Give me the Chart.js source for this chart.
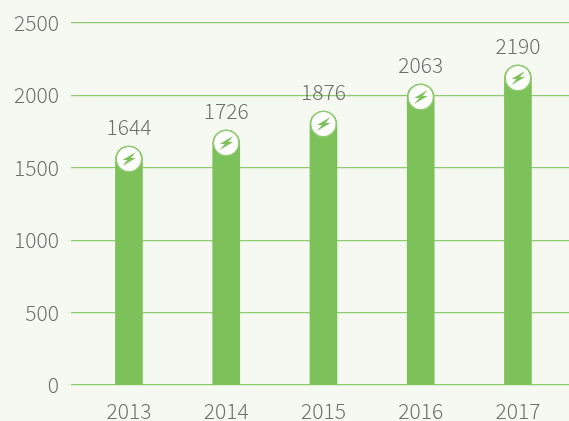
<!DOCTYPE html>
<html>
<head>
<meta charset="utf-8">
<style>
  html, body { margin: 0; padding: 0; background: #f6f9f2; overflow: hidden; }
  canvas { display: block; }
</style>
<script src="https://cdn.jsdelivr.net/npm/chart.js@4/dist/chart.umd.min.js"></script>
</head>
<body>
<canvas id="year_chart" width="569" height="421"></canvas>
<script>
const years = [2013, 2014, 2015, 2016, 2017];
// numbers printed above the bars
const printedValues = [1644, 1726, 1876, 2063, 2190];
// bar heights as drawn in the picture, they sit a little off the printed numbers
const barHeights = [1650, 1761, 1892, 2079, 2210];
const yTicks = [0, 500, 1000, 1500, 2000, 2500];

const GREEN = '#7dc15b';
const LINE_GREEN = '#8ecb70';
const TEXT_GREY = '#6e706d';
const FONT = '"Noto Sans CJK SC", "Noto Sans", sans-serif';

// white badge with a bolt on each bar, and the number above it
const badgePlugin = {
    id: 'badge',
    afterDatasetsDraw(chart) {
        const ctx = chart.ctx;
        chart.getDatasetMeta(0).data.forEach(function(bar, i){
            const cx = bar.x;
            const cy = bar.y + 13;
            ctx.save();
            ctx.beginPath();
            ctx.arc(cx, cy, 12.7, 0, Math.PI * 2);
            ctx.fillStyle = '#ffffff';
            ctx.fill();
            ctx.lineWidth = 1.4;
            ctx.strokeStyle = LINE_GREEN;
            ctx.stroke();

            ctx.beginPath();
            ctx.moveTo(cx + 7, cy - 7);
            ctx.lineTo(cx - 6.5, cy + 1);
            ctx.lineTo(cx - 1.5, cy + 1);
            ctx.lineTo(cx - 6.5, cy + 7);
            ctx.lineTo(cx + 7, cy - 1);
            ctx.lineTo(cx + 2, cy - 1);
            ctx.closePath();
            ctx.fillStyle = GREEN;
            ctx.fill();

            ctx.font = '300 21px ' + FONT;
            ctx.fillStyle = TEXT_GREY;
            ctx.textAlign = 'center';
            ctx.textBaseline = 'middle';
            ctx.fillText(String(printedValues[i]), cx, cy - 32);
            ctx.restore();
        });
    }
};

const ctx = document.getElementById('year_chart').getContext('2d');
const chart = new Chart(ctx, {
    type: 'bar',
    data: {
        datasets: [{
            data: years.map(function(y, i){ return { x: y, y: barHeights[i] }; }),
            backgroundColor: GREEN,
            barThickness: 27,
            borderRadius: { topLeft: 13.5, topRight: 13.5, bottomLeft: 0, bottomRight: 0 },
            borderSkipped: false
        }]
    },
    options: {
        responsive: false,
        animation: false,
        layout: { padding: { top: 23, right: 0, bottom: 0, left: 0 } },
        plugins: { legend: { display: false }, tooltip: { enabled: false } },
        scales: {
            x: {
                type: 'linear',
                offset: false,
                min: 2012.404,
                max: 2017.525,
                afterFit: function(scale){
                    scale.height = 36;
                    scale.paddingLeft = 0;
                    scale.paddingRight = 0;
                },
                afterBuildTicks: function(scale){
                    scale.ticks = years.map(function(y){ return { value: y }; });
                },
                grid: { display: false },
                border: { display: false },
                ticks: {
                    autoSkip: false,
                    maxRotation: 0,
                    padding: 5,
                    color: TEXT_GREY,
                    font: { family: FONT, size: 21, weight: '300' },
                    callback: function(v){ return String(v); }
                }
            },
            y: {
                min: 0,
                max: 2500,
                afterFit: function(scale){
                    scale.width = 71;
                    scale.paddingTop = 0;
                    scale.paddingBottom = 0;
                },
                afterBuildTicks: function(scale){
                    scale.ticks = yTicks.map(function(v){ return { value: v }; });
                },
                grid: { color: LINE_GREEN, lineWidth: 1.3, drawTicks: false },
                border: { display: false },
                ticks: {
                    padding: 12,
                    color: TEXT_GREY,
                    font: { family: FONT, size: 21, weight: '300' },
                    callback: function(v){ return String(v); }
                }
            }
        }
    },
    plugins: [badgePlugin]
});
</script>
</body>
</html>
